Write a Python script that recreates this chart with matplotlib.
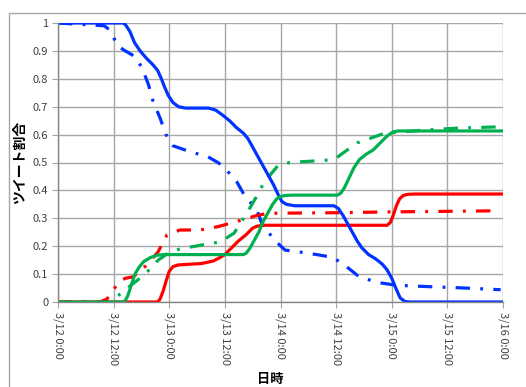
import matplotlib.pyplot as plt
import matplotlib.patches as mpatches
import numpy as np

plt.rcParams['font.family'] = ['Noto Sans CJK JP', 'DejaVu Sans']

# hours since 3/12 0:00
tick_hours = [0, 12, 24, 36, 48, 60, 72, 84, 96]
tick_labels = ["3/12 0:00", "3/12 12:00", "3/13 0:00", "3/13 12:00", "3/14 0:00",
               "3/14 12:00", "3/15 0:00", "3/15 12:00", "3/16 0:00"]

blue_solid_t = [0, 14.0, 14.5, 15.5, 16.5, 17.7, 19.0, 20.5, 21.5, 22.3, 23.0, 23.8, 24.8, 26.0, 27.5, 32.5,
                34.0, 35.5, 37.0, 38.5, 40.0, 41.0, 42.0, 43.5, 45.0, 46.5, 47.5, 48.3, 49.3, 51.0, 59.5,
                60.5, 61.5, 62.5, 63.5, 64.5, 65.5, 67.0, 68.5, 70.0, 71.0, 72.0, 73.0, 73.8, 74.8, 76.0, 96]
blue_solid_v = [1.0, 1.0, 0.995, 0.97, 0.93, 0.9, 0.875, 0.85, 0.83, 0.8, 0.77, 0.74, 0.715, 0.70, 0.695, 0.695,
                0.688, 0.67, 0.65, 0.625, 0.605, 0.585, 0.555, 0.51, 0.465, 0.42, 0.385, 0.36, 0.35, 0.345, 0.345,
                0.335, 0.31, 0.28, 0.25, 0.22, 0.195, 0.17, 0.155, 0.135, 0.115, 0.085, 0.045, 0.015, 0.002, 0.0, 0.0]

blue_dd_t = [0, 5, 10, 11.5, 12.7, 14.5, 16.6, 18.1, 19.5, 20.5, 22.0, 23.3, 24.8, 27.4, 29.3, 32.4, 34.5,
             36.0, 38.6, 40.3, 42.9, 44.0, 46.8, 49.0, 54.0, 59.3, 62.0, 65.0, 69.0, 73.0, 80.0, 88.0, 95.5]
blue_dd_v = [1.0, 0.995, 0.99, 0.97, 0.92, 0.9, 0.88, 0.84, 0.78, 0.72, 0.66, 0.6, 0.56, 0.545, 0.535, 0.52,
             0.5, 0.48, 0.43, 0.38, 0.33, 0.28, 0.22, 0.186, 0.175, 0.16, 0.13, 0.09, 0.07, 0.06, 0.055, 0.05, 0.044]

green_solid_t = [0, 14.3, 15.0, 15.8, 16.6, 17.5, 18.5, 20.0, 21.5, 23.0, 40.0, 40.6, 41.3, 42.3, 43.3, 44.3,
                 45.3, 46.3, 47.2, 48.0, 49.0, 50.5, 60.3, 61.0, 61.8, 62.8, 63.8, 65.0, 66.5, 68.0, 69.5,
                 71.0, 72.3, 73.5, 96]
green_solid_v = [0.0, 0.0, 0.02, 0.06, 0.1, 0.125, 0.145, 0.16, 0.168, 0.17, 0.17, 0.175, 0.19, 0.22, 0.25, 0.29,
                 0.32, 0.35, 0.37, 0.378, 0.382, 0.383, 0.383, 0.39, 0.41, 0.445, 0.48, 0.51, 0.53, 0.545, 0.57,
                 0.595, 0.61, 0.613, 0.613]

green_dd_t = [0, 11.2, 12.0, 15.0, 18.8, 21.6, 24.2, 26.3, 29.6, 32.8, 35.0, 38.0, 40.8, 42.9, 44.5, 46.5,
              47.5, 50.0, 59.5, 64.5, 70.5, 79.0, 86.0, 95.5]
green_dd_v = [0.0, 0.0, 0.01, 0.05, 0.1, 0.15, 0.18, 0.19, 0.2, 0.21, 0.215, 0.247, 0.32, 0.38, 0.43, 0.47,
              0.49, 0.50, 0.51, 0.57, 0.605, 0.616, 0.623, 0.628]

red_solid_t = [0, 21.5, 22.0, 22.7, 23.4, 24.0, 24.8, 26.0, 28.0, 31.0, 33.5, 35.0, 36.0, 37.5, 39.0, 40.5,
               42.0, 43.0, 44.5, 71.0, 71.7, 72.3, 73.0, 73.7, 74.5, 75.5, 77.0, 96]
red_solid_v = [0.0, 0.0, 0.01, 0.04, 0.08, 0.11, 0.127, 0.133, 0.135, 0.138, 0.147, 0.16, 0.17, 0.195, 0.22, 0.24,
               0.265, 0.272, 0.275, 0.275, 0.285, 0.31, 0.345, 0.37, 0.382, 0.386, 0.387, 0.387]

red_dd_t = [0, 9.0, 10.5, 11.5, 12.9, 14.5, 16.2, 19.2, 21.6, 23.5, 26.3, 30.6, 34.5, 38.2, 42.9, 45.3,
            60.0, 72.0, 84.0, 95.5]
red_dd_v = [0.0, 0.0, 0.01, 0.03, 0.068, 0.085, 0.09, 0.133, 0.18, 0.24, 0.258, 0.258, 0.27, 0.287, 0.31, 0.318,
            0.32, 0.323, 0.325, 0.327]

BLUE = '#0033ff'
GREEN = '#00b050'
RED = '#ff0000'
dd = (0, (4.5, 3.2, 0.9, 3.2))

fig = plt.figure(figsize=(5.26, 3.87), dpi=100)
ax = fig.add_axes([58 / 526, 1 - 302 / 387, 445 / 526, 279 / 387])

# outer chart frame
fig.patches.append(mpatches.Rectangle((9 / 526, -0.1), 1.2, 0.1 + 1 - 13 / 387,
                                      transform=fig.transFigure, fill=False,
                                      edgecolor='#a6a6a6', linewidth=1.0))

lw = 2.3
ax.plot(blue_dd_t, blue_dd_v, color=BLUE, lw=lw, linestyle=dd)
ax.plot(green_dd_t, green_dd_v, color=GREEN, lw=lw, linestyle=dd)
ax.plot(red_dd_t, red_dd_v, color=RED, lw=lw, linestyle=dd)
ax.plot(red_solid_t, red_solid_v, color=RED, lw=lw)
ax.plot(blue_solid_t, blue_solid_v, color=BLUE, lw=lw)
ax.plot(green_solid_t, green_solid_v, color=GREEN, lw=lw)

ax.set_xlim(0, 96)
ax.set_ylim(0, 1)
ax.set_xticks(tick_hours)
ax.set_xticklabels(tick_labels, rotation=-90, fontsize=8, color='#404040')
ax.set_yticks(np.arange(0, 1.01, 0.1))
ax.set_yticklabels(["0", "0.1", "0.2", "0.3", "0.4", "0.5", "0.6", "0.7", "0.8", "0.9", "1"],
                   fontsize=8, color='#404040')
ax.grid(True, color='#a6a6a6', linewidth=1.0)
ax.set_axisbelow(True)
ax.tick_params(axis='both', length=4, color='#a6a6a6', pad=3)
for side in ['top', 'right']:
    ax.spines[side].set_visible(False)
for side in ['left', 'bottom']:
    ax.spines[side].set_color('#868686')
    ax.spines[side].set_linewidth(1.0)

ax.set_ylabel("ツイート割合", fontsize=10, fontweight='bold', labelpad=4)
fig.text(270 / 526, 1 - 379 / 387, "日時", fontsize=9.5, fontweight='bold',
         ha='center', va='center')

fig.savefig("out.png", dpi=100)
